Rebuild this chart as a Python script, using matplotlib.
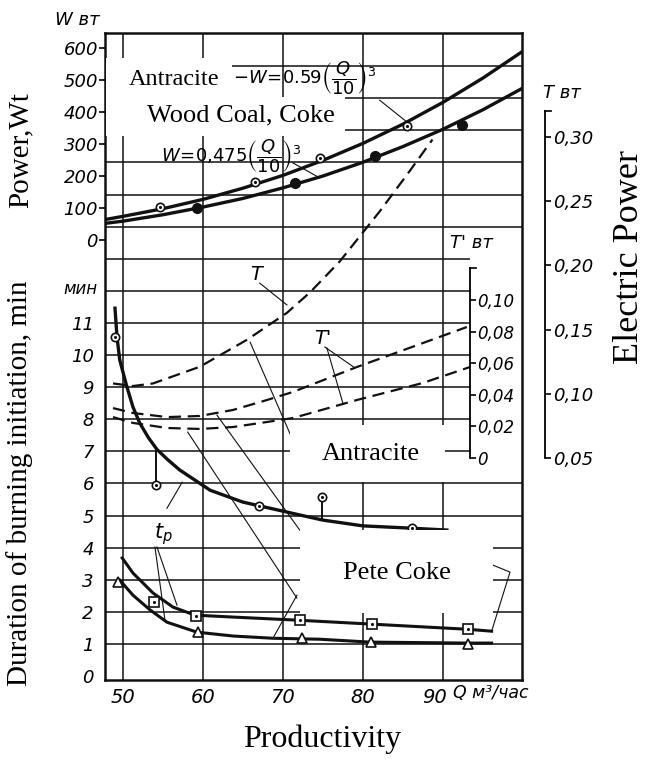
import matplotlib
matplotlib.use("Agg")
import matplotlib.pyplot as plt
from matplotlib.patches import Rectangle
from matplotlib.transforms import blended_transform_factory as blend, ScaledTranslation

plt.rcParams['mathtext.fontset'] = 'dejavusans'
plt.rcParams['mathtext.default'] = 'it'

# --- power, W (upper block) ---
q_pow = [47.75, 50, 55, 60, 65, 70, 75, 80, 85, 90, 95, 100]
w_antr = [64, 74, 98, 127, 162, 202, 249, 302, 362, 430, 506, 590]
w_wood = [52, 59, 79, 103, 130, 163, 200, 243, 292, 346, 407, 475]
q_antr_pts = [54.6, 66.5, 74.6, 85.5]
w_antr_pts = [103, 181, 256, 356]
q_wood_pts = [59.2, 71.5, 81.5, 92.4]
w_wood_pts = [100, 178, 262, 359]

# --- electric power T and T' (dashed) ---
q_T = [48.75, 51.25, 53.75, 59.6, 65.5, 70.5, 73.4, 77.1, 82.1, 85.8, 88.7]
T_vals = [0.108, 0.106, 0.108, 0.121, 0.142, 0.163, 0.179, 0.203, 0.242, 0.273, 0.298]
q_Tp_up = [48.75, 51.25, 55.5, 59.6, 63.75, 68, 71.25, 79.25, 86, 93]
Tp_up = [0.0316, 0.0285, 0.0259, 0.0266, 0.0304, 0.0367, 0.0418, 0.0576, 0.070, 0.0829]
q_Tp_lo = [48.75, 51.25, 55.5, 59.6, 63.75, 68, 71.25, 79.25, 87.5, 93.4]
Tp_lo = [0.0259, 0.0222, 0.019, 0.0184, 0.0196, 0.0228, 0.0253, 0.0367, 0.0475, 0.0576]

# --- duration of burning initiation, min ---
q_antr_t = [49.0, 49.25, 49.6, 50.5, 51.25, 52.1, 53.2, 54.25, 55.6, 57.1, 60.9, 65.0, 72.1, 75.0, 80.0, 85.9, 90.5]
t_antr = [11.46, 10.56, 9.84, 9.0, 8.38, 7.88, 7.42, 7.06, 6.74, 6.42, 5.79, 5.42, 5.02, 4.86, 4.68, 4.61, 4.55]
q_antr_tp = [49.0, 54.1, 67.0, 74.9, 86.1]
t_antr_tp = [10.56, 5.95, 5.3, 5.58, 4.6]
stem_q = [54.1, 74.9]
stem_from = [7.08, 4.86]
stem_to = [5.95, 5.58]

q_sq = [49.9, 51.25, 53.75, 56.25, 59.0, 63.75, 72.1, 81.1, 93.1, 96.1]
t_sq = [3.68, 3.21, 2.59, 2.15, 1.90, 1.84, 1.74, 1.62, 1.46, 1.40]
q_sq_pts = [53.9, 59.1, 72.1, 81.1, 93.1]
t_sq_pts = [2.31, 1.87, 1.74, 1.62, 1.46]

q_tri = [49.6, 51.25, 53.4, 55.5, 59.25, 63.75, 68.75, 74.6, 80.9, 93.0, 96.1]
t_tri = [2.99, 2.52, 2.06, 1.68, 1.37, 1.25, 1.18, 1.15, 1.06, 1.03, 1.03]
q_tri_pts = [49.4, 59.4, 72.4, 81.0, 93.2]
t_tri_pts = [2.93, 1.37, 1.18, 1.06, 1.0]

x_ticks = [50, 60, 70, 80, 90]
min_ticks = list(range(12))
w_ticks = [0, 100, 200, 300, 400, 500, 600]
T_ticks = [0.05, 0.10, 0.15, 0.20, 0.25, 0.30]
Tp_ticks = [0, 0.02, 0.04, 0.06, 0.08, 0.10]

# leader lines (Q, min)
leaders = [
    [(67.1, 12.24), (70.5, 11.56)],
    [(65.9, 10.4), (71.5, 7.2)],
    [(61.75, 8.13), (72.1, 4.55)],
    [(58.1, 7.6), (71.75, 2.43)],
    [(54.0, 4.02), (55.25, 1.74)],
    [(54.25, 4.02), (56.75, 2.21)],
    [(55.5, 5.23), (57.4, 6.04)],
    [(75.25, 10.25), (79.0, 9.6)],
    [(75.5, 10.22), (77.5, 8.5)],
    [(96.25, 3.46), (98.4, 3.24), (96.1, 1.40)],
    [(68.75, 1.18), (71.75, 2.52)],
]
w_leaders = [
    [(82.1, 437), (85.5, 369)],
    [(71.25, 241), (74.4, 197)],
]

ink = '#111111'
serif = 'Liberation Serif'

fig = plt.figure(figsize=(6.45, 7.59), dpi=100)
ax = fig.add_axes([105/645, 1-680/759, 417/645, 647/759])
ax.set_xlim(47.75, 99.9)
ax.set_ylim(-0.12, 20.03)
for s in ax.spines.values():
    s.set_linewidth(1.8)
    s.set_color(ink)

# grid
ax.vlines(x_ticks, -0.12, 20.03, color=ink, lw=1.1, zorder=1)
ax.hlines([1, 2, 3, 4, 5, 6, 14, 15, 16, 17, 18, 19], 47.75, 99.9, color=ink, lw=1.1, zorder=1)
ax.hlines([7, 8, 9, 10, 11, 12, 13], 47.75, 93.4, color=ink, lw=1.1, zorder=1)

ax.set_xticks(x_ticks)
ax.set_xticklabels([str(v) for v in x_ticks], fontstyle='italic', fontsize=14)
ax.tick_params(axis='x', length=0, pad=6)
lab90 = ax.get_xticklabels()[-1]
lab90.set_transform(lab90.get_transform() + ScaledTranslation(-8/100, 0, fig.dpi_scale_trans))
ax.set_yticks(min_ticks)
ax.set_yticklabels([str(v) for v in min_ticks], fontstyle='italic', fontsize=13)
ax.tick_params(axis='y', length=0, pad=8)

# duration curves
ax.plot(q_antr_t, t_antr, color=ink, lw=2.4, zorder=3)
ax.vlines(stem_q, stem_to, stem_from, color=ink, lw=1.4, zorder=3)
ax.plot(q_antr_tp, t_antr_tp, ls='none', marker='o', ms=6, mfc='white', mec=ink, mew=1.2, zorder=4)
ax.plot(q_antr_tp, t_antr_tp, ls='none', marker='.', ms=2.5, color=ink, zorder=5)
ax.plot(q_sq, t_sq, color=ink, lw=2.2, zorder=3)
ax.plot(q_sq_pts, t_sq_pts, ls='none', marker='s', ms=6.5, mfc='white', mec=ink, mew=1.2, zorder=4)
ax.plot(q_sq_pts, t_sq_pts, ls='none', marker='.', ms=2.5, color=ink, zorder=5)
ax.plot(q_tri, t_tri, color=ink, lw=2.2, zorder=3)
ax.plot(q_tri_pts, t_tri_pts, ls='none', marker='^', ms=7, mfc='white', mec=ink, mew=1.2, zorder=4)

for seg in leaders:
    ax.plot([p[0] for p in seg], [p[1] for p in seg], color=ink, lw=0.8, zorder=2)

ax.text(66.6, 12.5, 'T', fontsize=14, fontstyle='italic', ha='center', va='center')
ax.text(75.0, 10.53, "T'", fontsize=14, fontstyle='italic', ha='center', va='center')
ax.text(55.0, 4.42, r'$t_p$', fontsize=15, ha='center', va='center')
ax.text(-0.017, 12.05, 'мин', transform=blend(ax.transAxes, ax.transData),
        fontsize=12, fontstyle='italic', ha='right', va='center')
ax.text(91.3, -0.02, 'Q м³/час', transform=blend(ax.transData, ax.transAxes),
        fontsize=12.5, fontstyle='italic', ha='left', va='center')

# power axis
ax_w = ax.twinx()
ax_w.set_ylim(-1375, 647)
ax_w.yaxis.tick_left()
for s in ax_w.spines.values():
    s.set_visible(False)
ax_w.set_yticks(w_ticks)
ax_w.set_yticklabels([str(v) for v in w_ticks], fontstyle='italic', fontsize=13)
ax_w.tick_params(axis='y', direction='out', length=4, width=1.2, pad=1)
ax_w.plot(q_pow, w_antr, color=ink, lw=2.4)
ax_w.plot(q_pow, w_wood, color=ink, lw=2.4)
ax_w.plot(q_antr_pts, w_antr_pts, ls='none', marker='o', ms=6, mfc='white', mec=ink, mew=1.2)
ax_w.plot(q_antr_pts, w_antr_pts, ls='none', marker='.', ms=2.5, color=ink)
ax_w.plot(q_wood_pts, w_wood_pts, ls='none', marker='o', ms=7, color=ink)
for seg in w_leaders:
    ax_w.plot([p[0] for p in seg], [p[1] for p in seg], color=ink, lw=0.8)
ax_w.text(63.8, 505, r'$-W\!=\!0.59\left(\dfrac{Q}{10}\right)^{3}$', fontsize=13, ha='left', va='center')
ax_w.text(63.6, 262, r'$W\!=\!0{,}475\left(\dfrac{Q}{10}\right)^{3}$', fontsize=13, ha='center', va='center')
ax_w.text(-0.067, 1.02, 'W вт', transform=ax_w.transAxes, fontsize=13, fontstyle='italic',
          ha='center', va='center')

# T axis (right, outside)
ax_t = ax.twinx()
ax_t.set_ylim(-0.123, 0.381)
for k in ['top', 'bottom', 'left']:
    ax_t.spines[k].set_visible(False)
ax_t.spines['right'].set_position(('axes', 1.055))
ax_t.spines['right'].set_bounds(0.05, 0.32)
ax_t.spines['right'].set_linewidth(1.3)
ax_t.set_yticks(T_ticks)
ax_t.set_yticklabels([('%.2f' % v).replace('.', ',') for v in T_ticks], fontstyle='italic', fontsize=13)
ax_t.tick_params(axis='y', direction='out', length=4, width=1.2, pad=2)
ax_t.plot([1.055, 1.07], [0.32, 0.32], transform=blend(ax_t.transAxes, ax_t.transData),
          color=ink, lw=1.3, clip_on=False)
ax_t.plot(q_T, T_vals, color=ink, lw=1.6, ls=(0, (5.5, 3)))
ax_t.text(1.05, 0.907, 'T вт', transform=ax_t.transAxes, fontsize=13, fontstyle='italic',
          ha='left', va='center')

# T' axis (inside plot)
ax_tp = ax.twinx()
ax_tp.set_ylim(-0.1405, 0.269)
for k in ['top', 'bottom', 'left']:
    ax_tp.spines[k].set_visible(False)
ax_tp.spines['right'].set_position(('axes', 0.875))
ax_tp.spines['right'].set_bounds(0, 0.12)
ax_tp.spines['right'].set_linewidth(1.3)
ax_tp.set_yticks(Tp_ticks)
ax_tp.set_yticklabels(['0'] + [('%.2f' % v).replace('.', ',') for v in Tp_ticks[1:]],
                      fontstyle='italic', fontsize=12)
ax_tp.tick_params(axis='y', direction='out', length=4, width=1.2, pad=1)
ax_tp.plot([0.875, 0.89], [0.12, 0.12], transform=blend(ax_tp.transAxes, ax_tp.transData),
           color=ink, lw=1.3, clip_on=False)
ax_tp.plot(q_Tp_up, Tp_up, color=ink, lw=1.6, ls=(0, (5.5, 3)))
ax_tp.plot(q_Tp_lo, Tp_lo, color=ink, lw=1.6, ls=(0, (5.5, 3)))
ax_tp.text(0.827, 0.675, "T' вт", transform=ax_tp.transAxes, fontsize=13, fontstyle='italic',
           ha='left', va='center')

# white label boxes pasted over the chart
boxes = [(47.9, 17.94, 63.6, 19.25), (47.9, 16.82, 77.75, 18.04),
         (70.9, 6.04, 90.25, 7.82), (72.1, 1.96, 96.25, 4.55)]
for x0, y0, x1, y1 in boxes:
    ax_tp.add_patch(Rectangle((x0, y0), x1 - x0, y1 - y0, transform=ax.transData,
                              facecolor='white', edgecolor='none', zorder=10))
ax_tp.text(56.4, 18.57, 'Antracite', transform=ax.transData, family=serif, fontsize=17.5,
           ha='center', va='center', zorder=11)
ax_tp.text(64.75, 17.45, 'Wood Coal, Coke', transform=ax.transData, family=serif, fontsize=19,
           ha='center', va='center', zorder=11)
ax_tp.text(81.0, 6.92, 'Antracite', transform=ax.transData, family=serif, fontsize=19,
           ha='center', va='center', zorder=11)
ax_tp.text(84.25, 3.21, 'Pete Coke', transform=ax.transData, family=serif, fontsize=19,
           ha='center', va='center', zorder=11)

fig.text(21/645, 1-150/759, 'Power,Wt', family=serif, fontsize=21, rotation=90, ha='center', va='center')
fig.text(20/645, 1-483/759, 'Duration of burning initiation, min', family=serif, fontsize=21,
         rotation=90, ha='center', va='center')
fig.text(630/645, 1-257/759, 'Electric Power', family=serif, fontsize=26, rotation=90,
         ha='center', va='center')
fig.text(322/645, 1-739/759, 'Productivity', family=serif, fontsize=23, ha='center', va='center')

fig.savefig('out.png', dpi=100)
